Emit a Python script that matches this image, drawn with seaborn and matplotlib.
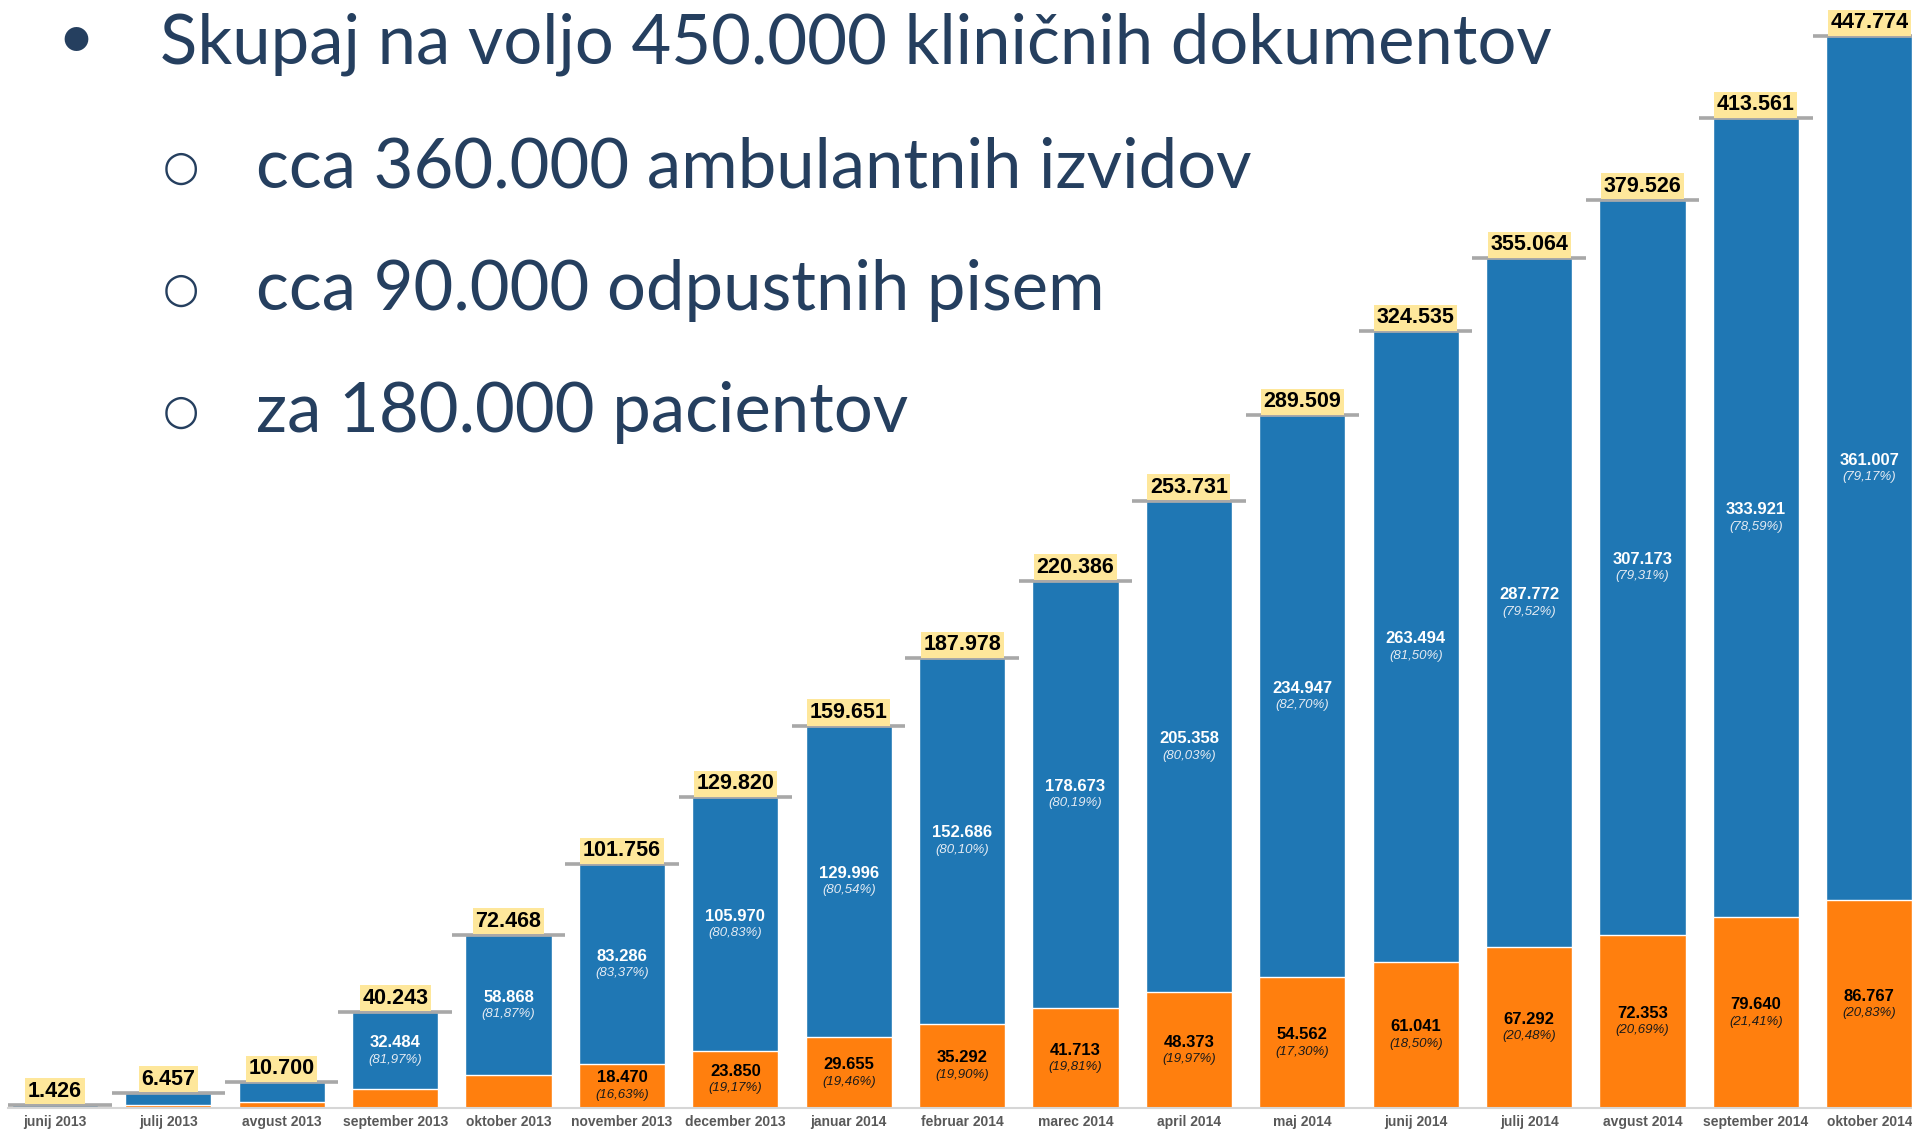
import numpy as np
import pandas as pd
import matplotlib
matplotlib.use("Agg")
import matplotlib.pyplot as plt
import seaborn as sns

months = ["junij 2013", "julij 2013", "avgust 2013", "september 2013", "oktober 2013",
          "november 2013", "december 2013", "januar 2014", "februar 2014", "marec 2014",
          "april 2014", "maj 2014", "junij 2014", "julij 2014", "avgust 2014",
          "september 2014", "oktober 2014"]
total = [1426, 6457, 10700, 40243, 72468, 101756, 129820, 159651, 187978, 220386,
         253731, 289509, 324535, 355064, 379526, 413561, 447774]
# odpustna pisma (orange); first five
letters = [120, 1120, 2500, 7759, 13600, 18470, 23850, 29655, 35292, 41713,
           48373, 54562, 61041, 67292, 72353, 79640, 86767]
ambul = [None, None, None, 32484, 58868, 83286, 105970, 129996, 152686, 178673,
         205358, 234947, 263494, 287772, 307173, 333921, 361007]
ambul_pct = [None, None, None, 81.97, 81.87, 83.37, 80.83, 80.54, 80.10, 80.19,
             80.03, 82.70, 81.50, 79.52, 79.31, 78.59, 79.17]
letters_pct = [None, None, None, None, None, 16.63, 19.17, 19.46, 19.90, 19.81,
               19.97, 17.30, 18.50, 20.48, 20.69, 21.41, 20.83]

lines = ["Skupaj na voljo 450.000 kliničnih dokumentov",
         "cca 360.000 ambulantnih izvidov",
         "cca 90.000 odpustnih pisem",
         "za 180.000 pacientov"]

BLUE = "#1f77b4"
ORANGE = "#ff7f0e"
NAVY = "#253f5f"

def num(v):
    return f"{v:,}".replace(",", ".")

def pct(p):
    return f"({p:.2f}%)".replace(".", ",")

sns.set_style("white")
plt.rcParams["font.family"] = ["Liberation Sans", "DejaVu Sans"]

W, H = 1912, 1129
fig = plt.figure(figsize=(W / 100, H / 100), dpi=100)
ax = fig.add_axes([8 / W, 21 / H, (W - 8) / W, 1108 / H])

df = pd.DataFrame({"mesec": months, "skupaj": total, "odpustna": letters})
sns.barplot(data=df, x="mesec", y="skupaj", color=BLUE, width=0.76, saturation=1, ax=ax)
sns.barplot(data=df, x="mesec", y="odpustna", color=ORANGE, width=0.76, saturation=1, ax=ax)

xs = np.arange(len(months))
ax.hlines(total, xs - 0.5, xs + 0.5, colors="#a8a8a8", lw=2.6, zorder=4)

for i in xs:
    ax.annotate(num(total[i]), (i, total[i]), xytext=(0, 3), textcoords="offset pixels",
                ha="center", va="bottom", fontsize=15.5, fontweight="bold", color="black",
                bbox=dict(boxstyle="square,pad=0.12", fc="#fee79b", ec="none"), zorder=5)
    if ambul[i] is not None:
        ym = (letters[i] + total[i]) / 2
        ax.annotate(num(ambul[i]), (i, ym), xytext=(0, 8), textcoords="offset pixels",
                    ha="center", va="center", fontsize=12, fontweight="bold", color="white")
        ax.annotate(pct(ambul_pct[i]), (i, ym), xytext=(0, -9), textcoords="offset pixels",
                    ha="center", va="center", fontsize=9.5, style="italic", color="#e4ebf3")
    if letters_pct[i] is not None:
        ym = letters[i] / 2
        ax.annotate(num(letters[i]), (i, ym), xytext=(0, 8), textcoords="offset pixels",
                    ha="center", va="center", fontsize=12, fontweight="bold", color="black")
        ax.annotate(pct(letters_pct[i]), (i, ym), xytext=(0, -9), textcoords="offset pixels",
                    ha="center", va="center", fontsize=9.5, style="italic", color="#1a1a1a")

ax.set_xlim(-0.414, 16.376)
ax.set_ylim(0, 463000)
ax.set_xlabel("")
ax.set_ylabel("")
ax.set_yticks([])
ax.set_xticks(xs)
ax.set_xticklabels(months)
ax.set_xticks(np.arange(0.5, 16.5, 1), minor=True)
ax.tick_params(axis="x", which="major", length=0, pad=5, labelsize=10, labelcolor="#595959")
ax.tick_params(axis="x", which="minor", length=5, width=1.2, color="#d0d0d0", direction="out")
for lab in ax.get_xticklabels():
    lab.set_fontweight("bold")
for s in ["top", "left", "right"]:
    ax.spines[s].set_visible(False)
ax.spines["bottom"].set_color("#d6d6d6")
ax.spines["bottom"].set_linewidth(1.5)
ax.patch.set_alpha(0)

# bullet text at the top left
base_y = [64, 188, 310, 432]
t1 = fig.text(160 / W, 1 - base_y[0] / H, lines[0], ha="left", va="baseline",
              fontsize=50, color=NAVY, family=["Lato", "DejaVu Sans"])
fig.canvas.draw()
w = t1.get_window_extent().width
fs = 50 * 1391 / w
t1.set_fontsize(fs)
for k in range(1, 4):
    fig.text(256 / W, 1 - base_y[k] / H, lines[k], ha="left", va="baseline",
             fontsize=fs, color=NAVY, family=["Lato", "DejaVu Sans"])
fig.text(76 / W, 1 - 40 / H, "•", ha="center", va="center", fontsize=46,
         color=NAVY, family=["Lato", "DejaVu Sans"])
for yc in [168, 290, 412]:
    fig.text(181 / W, 1 - yc / H, "○", ha="center", va="center", fontsize=30,
             color=NAVY, family=["DejaVu Sans"])

fig.savefig("out.png", dpi=100)
